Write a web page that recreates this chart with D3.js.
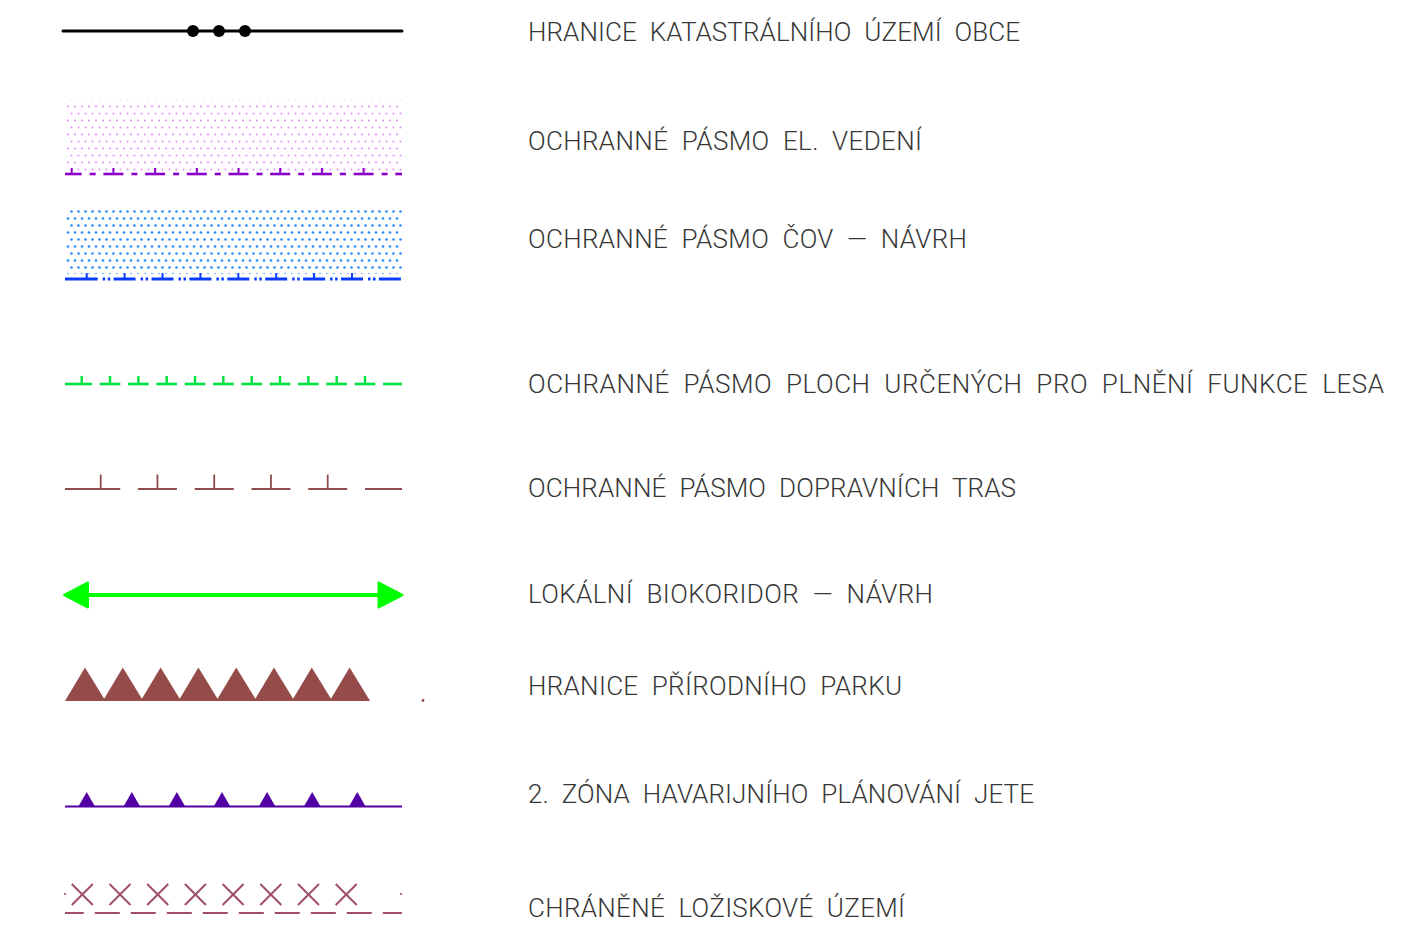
<!DOCTYPE html>
<meta charset="utf-8">
<style>
  body { margin: 0; background: #fff; }
  text { font-family: Roboto, "DejaVu Sans", sans-serif; font-weight: 300; fill: #363636; }
</style>
<body>
<script src="https://d3js.org/d3.v7.min.js"></script>
<script>

// legend labels, top to bottom
var labels = [
  "HRANICE  KATASTRÁLNÍHO  ÚZEMÍ  OBCE",
  "OCHRANNÉ  PÁSMO  EL.  VEDENÍ",
  "OCHRANNÉ  PÁSMO  ČOV  —  NÁVRH",
  "OCHRANNÉ  PÁSMO  PLOCH  URČENÝCH  PRO  PLNĚNÍ  FUNKCE  LESA",
  "OCHRANNÉ  PÁSMO  DOPRAVNÍCH  TRAS",
  "LOKÁLNÍ  BIOKORIDOR  —  NÁVRH",
  "HRANICE  PŘÍRODNÍHO  PARKU",
  "2.  ZÓNA  HAVARIJNÍHO  PLÁNOVÁNÍ  JETE",
  "CHRÁNĚNÉ  LOŽISKOVÉ  ÚZEMÍ"
];
var symbols = ["boundary", "power", "cov", "forest", "traffic", "biocorridor", "park", "zone", "deposit"];

// layout
var width = 1408, height = 927;
var textX = 528;
var textRight = [1020, 922, 967, 1384, 1016, 933, 902, 1034, 905];
var textBase = [40.5, 149.5, 247.5, 392.5, 496.5, 602.5, 694.5, 802.5, 916.5];
var lineY = [31, 174, 279, 384, 489, 595, 701, 806.5, 913];
var x0 = 64, x1 = 402;

var svg = d3.select("body").append("svg")
    .attr("width", width)
    .attr("height", height);

var defs = svg.append("defs");

function dotPattern(id, color, r) {
  var p = defs.append("pattern")
      .attr("id", id)
      .attr("patternUnits", "userSpaceOnUse")
      .attr("width", 7).attr("height", 14);
  p.append("circle").attr("cx", 1.5).attr("cy", 1.5).attr("r", r).attr("fill", color);
  p.append("circle").attr("cx", 5).attr("cy", 8.5).attr("r", r).attr("fill", color);
}
dotPattern("pinkDots", "#e296f4", 1.05);
dotPattern("blueDots", "#2a8cff", 1.35);

svg.selectAll("text.label")
    .data(labels)
  .enter().append("text")
    .attr("class", "label")
    .attr("xml:space", "preserve")
    .attr("x", textX)
    .attr("y", function(d, i) { return textBase[i]; })
    .attr("font-size", 26)
    .attr("textLength", function(d, i) { return textRight[i] - textX; })
    .attr("lengthAdjust", "spacing")
    .text(function(d) { return d; });

function clampSeg(a, b) { return [Math.max(a, x0 + 1), Math.min(b, x1)]; }

function segs(g, list, y, color, w) {
  g.selectAll(null).data(list).enter().append("line")
    .attr("x1", function(d) { return d[0]; })
    .attr("x2", function(d) { return d[1]; })
    .attr("y1", y).attr("y2", y)
    .attr("stroke", color).attr("stroke-width", w);
}
function ticks(g, xs, y, h, color, w) {
  g.selectAll(null).data(xs).enter().append("line")
    .attr("x1", function(d) { return d; })
    .attr("x2", function(d) { return d; })
    .attr("y1", y).attr("y2", y - h)
    .attr("stroke", color).attr("stroke-width", w);
}

var draw = {
  boundary: function(g, y) {
    g.append("line").attr("x1", 63).attr("x2", x1).attr("y1", y).attr("y2", y)
      .attr("stroke", "#000").attr("stroke-width", 3).attr("stroke-linecap", "round");
    g.selectAll(null).data([193, 219, 245]).enter().append("circle")
      .attr("cx", function(d) { return d; }).attr("cy", y).attr("r", 6).attr("fill", "#000");
  },
  power: function(g, y) {
    g.append("rect").attr("x", 66).attr("y", 100).attr("width", 336).attr("height", 72)
      .attr("fill", "url(#pinkDots)");
    var c = d3.range(9).map(function(k) { return 71.7 + 41.7 * k; });
    var col = "#8a00c8";
    segs(g, c.map(function(d) { return clampSeg(d - 10, d + 10); }).filter(function(s) { return s[1] > s[0]; }), y, col, 2.6);
    segs(g, c.map(function(d) { return clampSeg(d + 18, d + 24); }).filter(function(s) { return s[1] > s[0]; }), y, col, 2.6);
    ticks(g, c.filter(function(d) { return d < x1; }), y, 6, col, 2);
  },
  cov: function(g, y) {
    g.append("rect").attr("x", 66).attr("y", 206).attr("width", 336).attr("height", 68)
      .attr("fill", "url(#blueDots)");
    var c = d3.range(9).map(function(k) { return 86.7 + 37.9 * k; });
    var col = "#0a3cff";
    segs(g, c.map(function(d, k) { return clampSeg(k === 0 ? 65 : d - 11, d + 11); }), y, col, 3);
    var dots = [];
    c.slice(0, 8).forEach(function(d) { dots.push([d + 16, d + 18.5], [d + 21, d + 23.5]); });
    segs(g, dots, y, col, 3);
    ticks(g, c.slice(0, 8), y, 6, col, 2);
  },
  forest: function(g, y) {
    var c = d3.range(12).map(function(k) { return 81.7 + 28.33 * k; });
    var col = "#00e040";
    segs(g, c.map(function(d, k) { return clampSeg(k === 0 ? 65 : d - 10.3, d + 10.3); }), y, col, 2.6);
    ticks(g, c.slice(0, 11), y, 8, col, 2.4);
  },
  traffic: function(g, y) {
    var c = d3.range(6).map(function(k) { return 100.7 + 56.75 * k; });
    var col = "#8f4c4c";
    segs(g, c.map(function(d, k) {
      if (k === 0) return clampSeg(65, d + 19.5);
      if (k === 5) return clampSeg(365, x1);
      return clampSeg(d - 19.5, d + 19.5);
    }), y, col, 1.8);
    ticks(g, c.slice(0, 5), y, 14.5, col, 1.8);
  },
  biocorridor: function(g, y) {
    var col = "#00ff00";
    g.append("line").attr("x1", 85).attr("x2", 382).attr("y1", y).attr("y2", y)
      .attr("stroke", col).attr("stroke-width", 4);
    var heads = [[[64, y], [88, y - 12.5], [88, y + 12.5]], [[402.5, y], [378.5, y - 12.5], [378.5, y + 12.5]]];
    g.selectAll(null).data(heads).enter().append("path")
      .attr("d", function(d) { return d3.line()(d) + "Z"; })
      .attr("fill", col).attr("stroke", col).attr("stroke-width", 2).attr("stroke-linejoin", "round");
  },
  park: function(g, y) {
    var col = "#944b4a";
    var c = d3.range(8).map(function(k) { return 85 + 37.8 * k; });
    g.selectAll(null).data(c).enter().append("path")
      .attr("d", function(d) { return d3.line()([[d - 20, y], [d, y - 33.5], [d + 20.5, y]]) + "Z"; })
      .attr("fill", col);
    g.append("circle").attr("cx", 423).attr("cy", y - 0.5).attr("r", 1.4).attr("fill", col);
  },
  zone: function(g, y) {
    var col = "#5200a3";
    g.append("line").attr("x1", 65).attr("x2", x1).attr("y1", y).attr("y2", y)
      .attr("stroke", col).attr("stroke-width", 2.2);
    var c = d3.range(7).map(function(k) { return 86.7 + 45.1 * k; });
    g.selectAll(null).data(c).enter().append("path")
      .attr("d", function(d) { return d3.line()([[d - 8.3, y], [d, y - 14.5], [d + 8.3, y]]) + "Z"; })
      .attr("fill", col);
  },
  deposit: function(g, y) {
    var col = "#a04f66";
    var cy = 894.5, h = 10.5;
    var c = d3.range(8).map(function(k) { return 82.3 + 37.7 * k; });
    var xs = [];
    c.forEach(function(d) {
      xs.push([[d - h, cy - h], [d + h, cy + h]], [[d - h, cy + h], [d + h, cy - h]]);
    });
    g.selectAll(null).data(xs).enter().append("path")
      .attr("d", function(d) { return d3.line()(d); })
      .attr("stroke", col).attr("stroke-width", 2).attr("fill", "none");
    var dash = d3.range(-1, 9).map(function(k) { return 107.3 + 36 * k; });
    segs(g, dash.map(function(d) { return clampSeg(d - 12.5, d + 12.5); }), y, col, 2);
    g.selectAll(null).data([65, 401]).enter().append("circle")
      .attr("cx", function(d) { return d; }).attr("cy", cy - 0.5).attr("r", 1.1).attr("fill", col);
  }
};

symbols.forEach(function(s, i) {
  draw[s](svg.append("g").attr("class", "sym " + s), lineY[i]);
});

</script>
